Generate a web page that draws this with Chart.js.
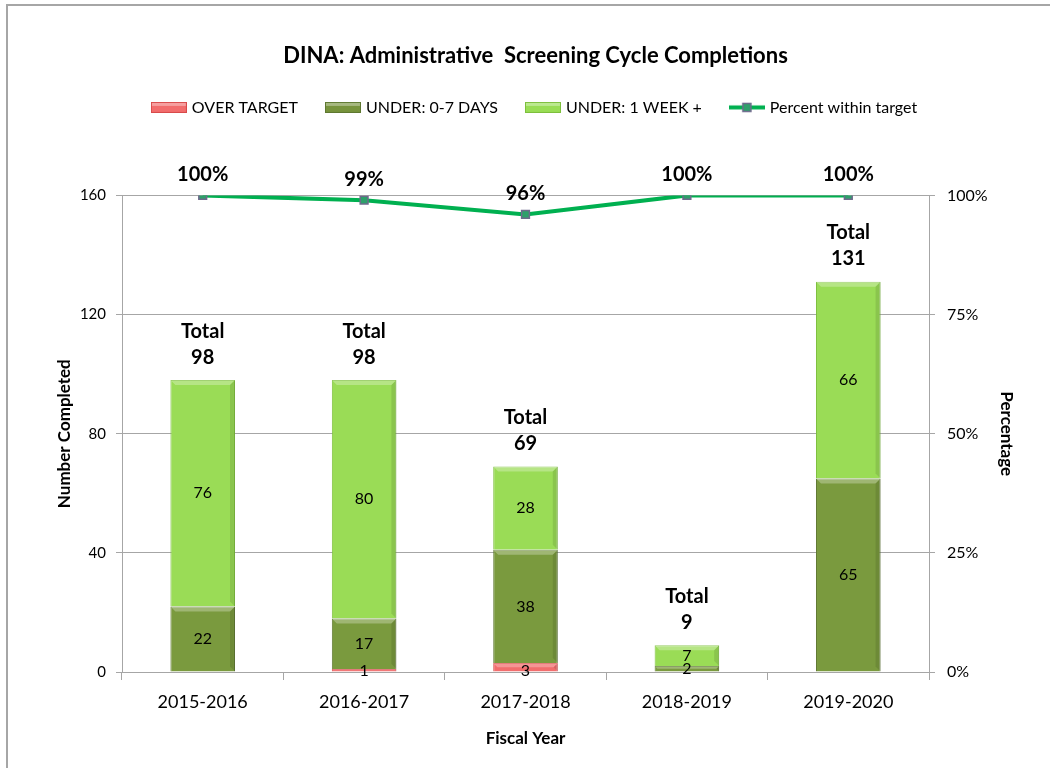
<!DOCTYPE html>
<html>
<head>
<meta charset="utf-8">
<style>
  html, body { margin: 0; padding: 0; background: #fff; }
  #wrap { width: 1050px; height: 768px; position: relative; }
</style>
<script src="https://cdn.jsdelivr.net/npm/chart.js@4.4.1/dist/chart.umd.min.js"></script>
</head>
<body>
<div id="wrap"><canvas id="cycleChart" width="1050" height="768"></canvas></div>
<script>
const fiscalYears = ['2015-2016', '2016-2017', '2017-2018', '2018-2019', '2019-2020'];
const overTarget = [0, 1, 3, 0, 0];
const underWeek = [22, 17, 38, 2, 65];
const underWeekPlus = [76, 80, 28, 7, 66];
const pctWithin = [100, 99, 96, 100, 100];
const countTicks = [0, 40, 80, 120, 160];
const pctTicks = [0, 25, 50, 75, 100];

const FONT = 'Lato, "Open Sans", sans-serif';

// small legend swatches
function swatch(fill, stroke) {
    const c = document.createElement('canvas');
    c.width = 36; c.height = 11;
    const g = c.getContext('2d');
    g.fillStyle = fill;
    g.fillRect(0, 0, 36, 11);
    g.fillStyle = 'rgba(255,255,255,0.35)';
    g.fillRect(1, 1, 34, 3);
    g.strokeStyle = stroke;
    g.strokeRect(0.5, 0.5, 35, 10);
    return c;
}
function lineSwatch() {
    const c = document.createElement('canvas');
    c.width = 36; c.height = 11;
    const g = c.getContext('2d');
    g.strokeStyle = '#00B050';
    g.lineWidth = 4;
    g.beginPath(); g.moveTo(0, 5.5); g.lineTo(36, 5.5); g.stroke();
    g.fillStyle = '#2EA06A';
    g.fillRect(14, 1.5, 8, 8);
    g.strokeStyle = '#6E6A8C';
    g.lineWidth = 1.5;
    g.strokeRect(14, 1.5, 8, 8);
    return c;
}
const swatches = [
    swatch('#F26D6D', '#D84A4A'),
    swatch('#77933C', '#5E7830'),
    swatch('#99DD55', '#7DBF3C'),
    lineSwatch()
];

const labelPlugin = {
    id: 'labelPlugin',
    beforeLayout(chart) {
        const lg = chart.legend;
        if (lg && !lg._patched) {
            const fit = lg.fit;
            lg.fit = function () { fit.call(this); this.height += 70; };
            lg._patched = true;
        }
    },
    beforeDraw(chart) {
        const ctx = chart.ctx;
        ctx.save();
        ctx.strokeStyle = '#A6A6A6';
        ctx.lineWidth = 2;
        ctx.beginPath();
        ctx.moveTo(7, 780); ctx.lineTo(7, 5); ctx.lineTo(1060, 5);
        ctx.stroke();
        ctx.restore();
    },
    afterDatasetsDraw(chart) {
        const ctx = chart.ctx;
        const yScale = chart.scales.y;
        ctx.save();
        // bevel highlight on each bar segment
        for (let d = 0; d < 3; d++) {
            const meta = chart.getDatasetMeta(d);
            meta.data.forEach((bar, i) => {
                const v = chart.data.datasets[d].data[i];
                if (!v) return;
                const h = Math.abs(bar.base - bar.y);
                const left = bar.x - bar.width / 2, right = bar.x + bar.width / 2;
                const s = Math.min(5, h / 2);
                ctx.fillStyle = 'rgba(255,255,255,0.28)';
                ctx.beginPath();
                ctx.moveTo(left, bar.y); ctx.lineTo(right, bar.y);
                ctx.lineTo(right - s, bar.y + s); ctx.lineTo(left + s, bar.y + s);
                ctx.closePath(); ctx.fill();
                ctx.fillStyle = 'rgba(0,0,0,0.10)';
                ctx.beginPath();
                ctx.moveTo(right, bar.y); ctx.lineTo(right, bar.base);
                ctx.lineTo(right - s, bar.base - s); ctx.lineTo(right - s, bar.y + s);
                ctx.closePath(); ctx.fill();
            });
        }
        // segment values
        ctx.fillStyle = '#000';
        ctx.textAlign = 'center';
        ctx.textBaseline = 'middle';
        ctx.font = '16px ' + FONT;
        for (let d = 0; d < 3; d++) {
            const meta = chart.getDatasetMeta(d);
            meta.data.forEach((bar, i) => {
                const v = chart.data.datasets[d].data[i];
                if (!v) return;
                let cy = (bar.y + bar.base) / 2;
                if (d === 0) cy = bar.base - 1;
                ctx.fillText(String(v), bar.x, cy);
            });
        }
        // totals
        ctx.font = 'bold 20px ' + FONT;
        fiscalYears.forEach((fy, i) => {
            const total = overTarget[i] + underWeek[i] + underWeekPlus[i];
            const x = chart.getDatasetMeta(2).data[i].x;
            const top = yScale.getPixelForValue(total);
            ctx.fillText('Total', x, top - 49);
            ctx.fillText(String(total), x, top - 23);
        });
        // percentages
        const lineMeta = chart.getDatasetMeta(3);
        lineMeta.data.forEach((pt, i) => {
            ctx.fillText(Math.round(pctWithin[i]) + '%', pt.x, pt.y - 21);
        });
        ctx.restore();
    }
};

const ctx = document.getElementById('cycleChart').getContext('2d');
new Chart(ctx, {
    data: {
        labels: fiscalYears,
        datasets: [
            {
                type: 'bar',
                label: 'OVER TARGET',
                data: overTarget,
                backgroundColor: '#F26D6D',
                borderColor: '#D84A4A',
                borderWidth: 1,
                stack: 's',
                yAxisID: 'y'
            },
            {
                type: 'bar',
                label: 'UNDER: 0-7 DAYS',
                data: underWeek,
                backgroundColor: '#7A9A3E',
                borderColor: '#5E7830',
                borderWidth: 1,
                stack: 's',
                yAxisID: 'y'
            },
            {
                type: 'bar',
                label: 'UNDER: 1 WEEK +',
                data: underWeekPlus,
                backgroundColor: '#9ADC56',
                borderColor: '#7DBF3C',
                borderWidth: 1,
                stack: 's',
                yAxisID: 'y'
            },
            {
                type: 'line',
                label: 'Percent within target',
                data: pctWithin,
                borderColor: '#00B050',
                borderWidth: 4,
                pointStyle: 'rect',
                pointRadius: 5.5,
                pointBackgroundColor: '#2EA06A',
                pointBorderColor: '#6E6A8C',
                pointBorderWidth: 1.5,
                tension: 0,
                yAxisID: 'y1'
            }
        ]
    },
    options: {
        responsive: false,
        animation: false,
        layout: { padding: { top: 43, left: 50, right: 29, bottom: 15 } },
        datasets: { bar: { barPercentage: 0.4, categoryPercentage: 1 } },
        scales: {
            x: {
                stacked: true,
                afterFit: s => { s.height = 81; },
                grid: { offset: true, drawOnChartArea: false, tickLength: 8, color: '#A6A6A6' },
                border: { color: '#A6A6A6' },
                ticks: { color: '#000', font: { size: 18, family: FONT }, padding: 11 },
                title: { display: true, text: 'Fiscal Year', color: '#000', font: { size: 17, weight: 'bold', family: FONT }, padding: { top: 12 } }
            },
            y: {
                stacked: true,
                min: 0,
                max: 160,
                afterFit: s => { s.width = 72; },
                afterBuildTicks: s => { s.ticks = countTicks.map(v => ({ value: v })); },
                grid: { color: '#A6A6A6', tickLength: 6 },
                border: { color: '#A6A6A6' },
                ticks: { color: '#000', font: { size: 15, family: FONT }, padding: 10 },
                title: { display: true, text: 'Number Completed', color: '#000', font: { size: 17, weight: 'bold', family: FONT } }
            },
            y1: {
                position: 'right',
                min: 0,
                max: 100,
                afterFit: s => { s.width = 92; },
                afterBuildTicks: s => { s.ticks = pctTicks.map(v => ({ value: v })); },
                grid: { drawOnChartArea: false, color: '#A6A6A6', tickLength: 6 },
                border: { color: '#A6A6A6' },
                ticks: { color: '#000', font: { size: 16, family: FONT }, padding: 12, callback: v => v + '%' },
                title: { display: true, text: 'Percentage', color: '#000', font: { size: 17, weight: 'bold', family: FONT } }
            }
        },
        plugins: {
            title: {
                display: true,
                text: 'DINA: Administrative  Screening Cycle Completions',
                color: '#000',
                font: { size: 22, weight: 'bold', family: FONT },
                padding: { top: 0, bottom: 0 }
            },
            legend: {
                position: 'top',
                labels: {
                    usePointStyle: true,
                    pointStyleWidth: 30,
                    color: '#000',
                    font: { size: 16, family: FONT },
                    padding: 30,
                    generateLabels: chart => chart.data.datasets.map((ds, i) => ({
                        text: ds.label,
                        pointStyle: swatches[i],
                        fillStyle: 'transparent',
                        strokeStyle: 'transparent',
                        lineWidth: 0,
                        fontColor: '#000',
                        datasetIndex: i,
                        hidden: false
                    }))
                }
            },
            tooltip: { enabled: false }
        }
    },
    plugins: [labelPlugin]
});
</script>
</body>
</html>
